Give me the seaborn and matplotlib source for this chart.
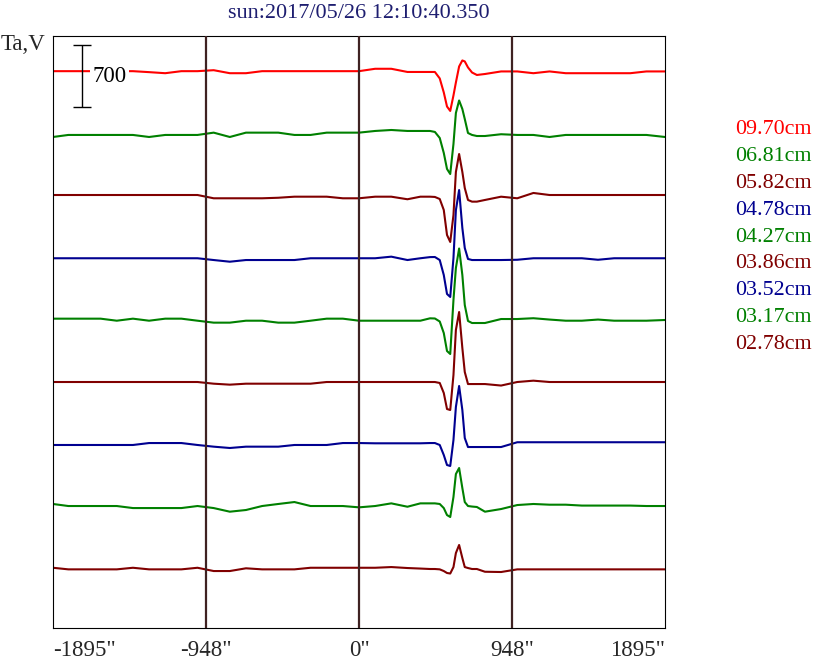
import matplotlib
matplotlib.use('Agg')
import matplotlib.pyplot as plt
import seaborn as sns
import pandas as pd

# position along the scan, arcsec
x_arcsec = [-1895, -1800, -1700, -1600, -1500, -1400, -1300, -1200, -1100, -1000,
            -900, -800, -700, -600, -500, -400, -300, -200, -100, 0,
            100, 200, 300, 380,
            440, 470, 500, 525, 545, 565, 585, 600, 620, 640, 655, 675, 700, 730, 780,
            880, 980, 1080, 1180, 1280, 1380, 1480, 1580, 1680, 1780, 1895]

# antenna temperature (V) relative to each channel's baseline
ch_970 = [9, 9, 9, 9, 9, 9, -2, -14, 9, 9, 20, -14, -14, 9, 9, 9, 9, 9, 9, 9,
          36, 36, 0, 0,
          0, 0, -73, -231, -390, -440, -265, -119, 62, 130, 119, 51, -6, -34, -23,
          6, 6, -14, 6, -14, -14, -14, -14, -14, 6, 6]
ch_681 = [-34, -11, -11, -11, -11, -11, -34, -11, -11, -11, 15, -34, 15, 15, 15, -11, -11, 15, 15, 15,
          34, 45, 34, 34,
          34, 23, -45, -214, -395, -452, -113, 237, 378, 282, 169, 11, -11, -23, -23,
          -3, -11, -11, -34, -11, -11, -11, -11, -11, -11, -34]
ch_582 = [11, 11, 11, 11, 11, 11, 11, 11, 11, 11, -26, -26, -26, -26, -20, -8, -8, -8, -26, -26,
          -8, -8, -37, -8,
          -8, -11, -34, -158, -440, -519, -215, 271, 474, 271, 90, -45, -64, -64, -45,
          -8, -26, 34, 11, 11, 11, 11, 11, 11, 11, 11]
ch_478 = [-3, -3, -3, -3, -3, -3, -3, -3, -3, -3, -23, -42, -23, -23, -23, -23, -3, -3, -3, -3,
          -3, 15, -23, -3,
          10, 11, -23, -192, -406, -440, 0, 540, 767, 339, 113, -11, -23, -23, -23,
          -23, -20, -3, -3, -3, -3, -20, -3, -3, -3, -3]
ch_427 = [15, 15, 15, 15, -8, 15, -8, 15, 15, -8, -30, -30, -8, -8, -30, -30, -8, 15, 15, -8,
          -8, -8, -8, -8,
          19, 17, -17, -147, -350, -384, 226, 587, 807, 508, 169, -11, -34, -34, -34,
          11, 11, 20, 5, -8, -8, 5, -8, -8, -8, 0]
ch_386 = [0, 0, 0, 0, 0, 0, 0, 0, 0, 0, -19, -30, -19, -19, -19, -19, -19, 0, 0, 0,
          0, 0, 0, 0,
          0, 0, -11, -124, -305, -316, 79, 587, 790, 384, 113, -23, -23, -23, -23,
          -40, 0, 15, 0, 0, 0, 0, 0, 0, 0, 0]
ch_352 = [-11, -11, -11, -11, -11, -11, 11, 11, 11, -11, -30, -45, -30, -30, -30, -11, -11, -11, 11, 11,
          8, 8, 8, 8,
          11, 11, -11, -124, -237, -248, 45, 418, 655, 384, 68, -34, -34, -34, -34,
          -34, 20, 20, 20, 20, 20, 20, 20, 20, 20, 20]
ch_317 = [23, 0, 0, 0, 0, -23, -23, -23, -23, 0, -23, -64, -45, 0, 23, 45, 0, 0, 0, -15,
          0, 30, -8, 30,
          30, 30, 23, -23, -102, -124, 102, 361, 429, 203, 45, 0, -6, -11, -64,
          -34, 11, 23, 15, 15, 5, 5, 5, 5, 0, 0]
ch_278 = [3, -15, -15, -15, -15, 3, -15, -15, -15, 3, -34, -34, -3, -15, -15, -15, 3, 3, 3, 3,
          3, 11, 0, -6,
          -11, -11, -15, -34, -56, -62, 11, 169, 260, 113, 11, 0, -11, -11, -42,
          -45, -15, -15, -15, -15, -15, -15, -15, -15, -15, -15]

channels = ['09.70cm', '06.81cm', '05.82cm', '04.78cm', '04.27cm',
            '03.86cm', '03.52cm', '03.17cm', '02.78cm']
series = [ch_970, ch_681, ch_582, ch_478, ch_427, ch_386, ch_352, ch_317, ch_278]
colors = ['#ff0000', '#008000', '#800000', '#000090', '#008000',
          '#800000', '#000090', '#008000', '#800000']

tick_pos = [-1895, -948, 0, 948, 1895]
tick_labels = ['-1895"', '-948"', '0"', '948"', '1895"']
grid_lines = [-948, 0, 948]
step = 700        # vertical spacing between channels, V
scale_bar = 700   # length of the scale bar, V
title = 'sun:2017/05/26 12:10:40.350'

sns.set_style('white')
plt.rcParams['font.family'] = ['Liberation Serif', 'DejaVu Serif']

W, H = 813, 662
fig = plt.figure(figsize=(W / 100, H / 100), dpi=100)
ax = fig.add_axes([53 / W, 34 / H, 612 / W, 592 / H])

n = len(series)
for i, (vals, col) in enumerate(zip(series, colors)):
    off = step * (n - i)
    df = pd.DataFrame({'x': x_arcsec, 'y': [v + off for v in vals]})
    sns.lineplot(data=df, x='x', y='y', color=col, linewidth=1.5,
                 estimator=None, sort=False, ax=ax, zorder=2)

for gx in grid_lines:
    ax.axvline(gx, color='#3f2222', linewidth=1.6, zorder=3)

# scale bar in the upper-left corner
bar_y = step * n - 50
ax.errorbar([-1715], [bar_y], yerr=scale_bar / 2, color='black', linewidth=1,
            capsize=6.5, capthick=1, zorder=4)
ax.text(-1650, bar_y, str(scale_bar), ha='left', va='center', fontsize=16.5,
        color='black', zorder=5,
        bbox=dict(facecolor='white', edgecolor='none', pad=1.5))

ax.set_xlim(-1895, 1895)
ax.set_ylim(23, 6706)
ax.set_xlabel('')
ax.set_ylabel('')
ax.set_yticks([])
ax.set_xticks(tick_pos)
ax.set_xticklabels(tick_labels, fontsize=16.5)
ax.tick_params(axis='x', length=0, pad=9)
labels = ax.get_xticklabels()
labels[0].set_ha('left')
labels[-1].set_ha('right')
for sp in ax.spines.values():
    sp.set_color('black')
    sp.set_linewidth(0.8)

fig.text(359 / W, 1 - 14 / H, title, ha='center', va='center',
         fontsize=16, color='#1e1e70')
fig.text(1 / W, 1 - 44 / H, 'Ta,V', ha='left', va='center', fontsize=16.5)

# channel labels down the right margin
for i, (name, col) in enumerate(zip(channels, colors)):
    fig.text(735 / W, 1 - (129.5 + 26.9 * i) / H, name, ha='left', va='center',
             fontsize=15.8, color=col)

fig.savefig('out.png', dpi=100)
